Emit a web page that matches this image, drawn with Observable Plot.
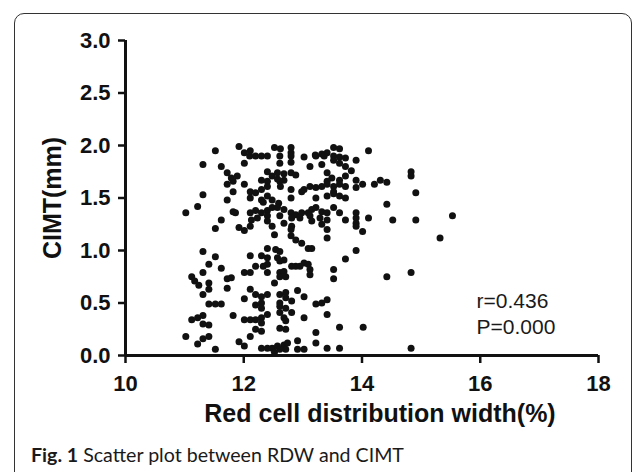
<!DOCTYPE html>
<html>
<head>
<meta charset="utf-8">
<script src="https://cdn.jsdelivr.net/npm/d3@7"></script>
<script src="https://cdn.jsdelivr.net/npm/@observablehq/plot@0.6"></script>
<style>
  html, body { margin: 0; padding: 0; background: #fff; }
  body { width: 633px; height: 472px; position: relative; overflow: hidden; }
  #frame { position: absolute; left: 14px; top: 13px; width: 618px; height: 470px;
           border: 1.5px solid #333; border-radius: 10px; box-sizing: border-box; }
  #chart { position: absolute; left: 0; top: 0; }
  #caption { position: absolute; left: 31px; top: 445px; font-family: Lato, "Open Sans", sans-serif;
             font-size: 19.6px; line-height: 20px; color: #1a1a1a; white-space: nowrap; }
  #caption b { font-weight: 700; }
</style>
</head>
<body>
<div id="frame"></div>
<div id="chart"></div>
<div id="caption"><b>Fig. 1</b> Scatter plot between RDW and CIMT</div>
<script>
// RDW (%) values, band by band from top (high CIMT) to bottom
const rdw = [
  11.52,11.92,12.11,12.52,12.62,12.80,12.80,13.21,13.52,13.62,14.11,13.32,13.41,
  12.01,12.10,12.20,12.30,12.40,12.61,12.80,13.02,13.22,13.36,13.52,13.62,13.72,13.90,
  11.31,11.62,12.01,12.61,12.80,13.12,13.32,13.52,13.62,13.72,13.82,
  11.72,11.79,11.89,11.82,12.40,12.48,12.57,12.68,12.80,12.88,12.68,12.61,12.40,12.30,13.41,13.49,13.62,13.72,13.90,14.31,14.42,14.83,14.83,13.41,12.57,
  11.72,12.01,12.11,12.20,12.30,12.40,12.62,12.80,13.02,13.12,13.22,13.32,13.41,13.52,13.62,13.72,13.90,14.01,14.21,13.52,12.98,11.82,14.91,
  11.31,11.72,12.11,12.30,12.40,12.48,12.59,12.80,13.22,13.41,13.52,13.62,13.72,14.42,11.22,12.33,
  11.02,11.82,12.11,12.20,12.30,12.40,12.48,12.57,12.68,12.80,12.88,12.98,13.09,13.15,13.22,13.32,13.41,13.52,13.62,13.72,13.90,14.11,14.52,14.91,15.53,12.13,12.23,12.40,12.61,12.81,12.95,13.12,13.29,13.41,13.90,11.62,11.86,
  11.52,11.92,12.01,12.11,12.40,12.48,12.68,12.81,13.15,13.32,13.41,13.90,13.90,14.01,12.80,
  12.52,12.80,12.88,12.98,13.15,13.41,15.32,12.40,12.54,12.61,11.31,13.90,13.09,
  11.52,12.11,12.30,12.40,12.57,12.68,13.02,13.09,13.72,11.41,12.20,12.40,12.61,12.81,
  11.62,12.01,12.11,12.40,12.61,12.68,12.88,12.95,13.12,13.12,13.52,13.52,14.42,14.83,11.72,11.79,11.12,11.31,12.33,12.61,12.71,
  11.17,11.24,11.41,11.41,11.72,12.11,12.52,12.71,12.91,
  11.31,12.01,12.20,12.30,12.40,12.61,12.71,13.02,13.41,13.32,13.22,11.41,11.52,11.62,12.20,12.30,12.61,12.81,
  12.30,12.61,12.71,12.61,12.81,13.41,11.31,11.82,11.22,11.12,12.01,12.11,12.20,12.30,12.40,12.68,
  11.31,11.41,12.30,12.71,13.02,12.61,12.71,12.20,12.30,13.62,14.02,13.22,
  11.02,11.22,11.31,11.41,11.52,11.92,12.01,12.11,12.30,12.40,12.48,12.57,12.68,12.71,12.91,12.91,13.02,13.22,13.41,13.62,14.83,12.52,12.61,12.74
];
// CIMT (mm) values, paired with rdw
const cimt = [
  1.95,1.99,1.95,1.98,1.97,1.98,1.93,1.91,1.98,1.97,1.95,1.92,1.93,
  1.93,1.90,1.90,1.90,1.90,1.90,1.90,1.89,1.90,1.90,1.90,1.89,1.88,1.86,
  1.82,1.80,1.83,1.83,1.84,1.80,1.82,1.86,1.83,1.80,1.76,
  1.74,1.69,1.71,1.66,1.75,1.71,1.74,1.73,1.74,1.72,1.67,1.66,1.66,1.67,1.74,1.69,1.67,1.71,1.67,1.67,1.65,1.75,1.71,1.66,1.68,
  1.63,1.63,1.56,1.55,1.58,1.61,1.61,1.58,1.58,1.61,1.60,1.61,1.63,1.61,1.63,1.61,1.60,1.63,1.63,1.56,1.56,1.56,1.55,
  1.53,1.48,1.50,1.48,1.52,1.48,1.45,1.50,1.50,1.52,1.54,1.52,1.50,1.44,1.42,1.46,
  1.36,1.37,1.36,1.38,1.36,1.38,1.41,1.41,1.39,1.36,1.34,1.36,1.36,1.39,1.41,1.37,1.36,1.41,1.36,1.29,1.36,1.31,1.29,1.29,1.33,1.29,1.31,1.33,1.33,1.31,1.31,1.33,1.31,1.29,1.31,1.29,1.36,
  1.21,1.22,1.19,1.23,1.28,1.23,1.26,1.23,1.28,1.25,1.20,1.26,1.23,1.18,1.20,
  1.15,1.14,1.10,1.07,1.02,1.12,1.12,1.02,1.01,0.99,0.99,1.00,1.02,
  0.94,0.95,0.95,0.93,0.93,0.91,0.88,0.87,0.92,0.87,0.85,0.87,0.90,0.85,
  0.83,0.79,0.79,0.79,0.79,0.80,0.85,0.85,0.82,0.77,0.82,0.73,0.75,0.79,0.73,0.74,0.75,0.79,0.85,0.75,0.75,
  0.71,0.67,0.69,0.63,0.64,0.63,0.69,0.60,0.62,
  0.58,0.54,0.58,0.56,0.58,0.58,0.55,0.56,0.53,0.50,0.49,0.49,0.49,0.49,0.48,0.50,0.50,0.52,
  0.45,0.47,0.45,0.41,0.41,0.39,0.38,0.38,0.36,0.34,0.34,0.34,0.34,0.36,0.39,0.36,
  0.30,0.29,0.31,0.33,0.36,0.26,0.25,0.25,0.23,0.27,0.27,0.22,
  0.18,0.11,0.16,0.18,0.06,0.13,0.09,0.18,0.07,0.07,0.07,0.09,0.10,0.06,0.14,0.06,0.06,0.12,0.07,0.07,0.07,0.03,0.06,0.12
];
const xTicks = [10, 12, 14, 16, 18];
const yTicks = [0, 0.5, 1.0, 1.5, 2.0, 2.5, 3.0];
const xTitle = "Red cell distribution width(%)";
const yTitle = "CIMT(mm)";
const stats = ["r=0.436", "P=0.000"];

const points = rdw.map((x, i) => ({x, y: cimt[i]}));

const font = "'Liberation Sans', Arial, Helvetica, sans-serif";
const chart = Plot.plot({
  width: 633,
  height: 440,
  marginLeft: 125,
  marginRight: 35,
  marginTop: 40,
  marginBottom: 85,
  style: {fontFamily: font, background: "transparent", color: "#111"},
  x: {domain: [10, 18]},
  y: {domain: [0, 3]},
  marks: [
    Plot.axisX(xTicks, {tickSize: 8, strokeWidth: 2.5, tickPadding: 12, fontSize: 22, fontWeight: "bold", label: null}),
    Plot.axisY(yTicks, {tickSize: 7, strokeWidth: 2.5, tickPadding: 8, fontSize: 22, fontWeight: "bold", tickFormat: d3.format(".1f"), label: null}),
    Plot.ruleX([10], {strokeWidth: 3, stroke: "#111"}),
    Plot.ruleY([0], {strokeWidth: 3, stroke: "#111"}),
    Plot.dot(points, {x: "x", y: "y", r: 3.5, fill: "#111", stroke: "none"}),
    Plot.text([xTitle], {frameAnchor: "bottom", textAnchor: "middle", dx: 18, dy: 66, fontSize: 25, fontWeight: "bold", fill: "#111"}),
    Plot.text([yTitle], {frameAnchor: "left", textAnchor: "middle", dx: -73, rotate: -90, fontSize: 25, fontWeight: "bold", fill: "#111"}),
    Plot.text([stats.join("\n")], {frameAnchor: "top-right", textAnchor: "start", lineAnchor: "top", dx: -122, dy: 250, lineHeight: 1.2, fontSize: 21, fill: "#1a1a1a"})
  ]
});
document.getElementById("chart").appendChild(chart);
</script>
</body>
</html>
